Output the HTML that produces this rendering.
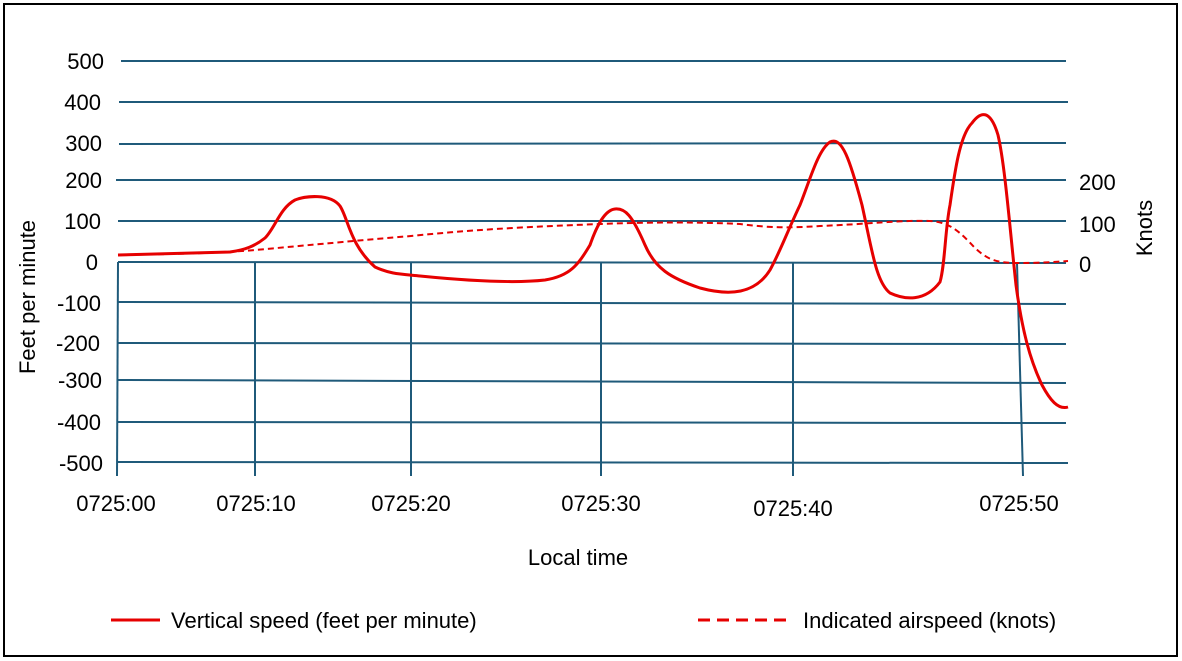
<!DOCTYPE html>
<html><head><meta charset="utf-8"><style>
html,body{margin:0;padding:0;background:#fff;}
svg{display:block;font-family:"Liberation Sans",Arial,sans-serif;}
</style></head><body>
<svg width="1182" height="661" viewBox="0 0 1182 661">
<rect x="0" y="0" width="1182" height="661" fill="#fff"/>
<rect x="4" y="4" width="1173" height="652" fill="none" stroke="#000" stroke-width="2"/>
<g stroke="#1f5a7a" stroke-width="2" fill="none">
<line x1="121" y1="61" x2="1066" y2="61"/>
<line x1="119" y1="102" x2="1068" y2="102"/>
<line x1="119" y1="144" x2="1066" y2="143"/>
<line x1="116" y1="180" x2="1066" y2="180"/>
<line x1="118" y1="221" x2="1066" y2="221"/>
<line x1="118" y1="262" x2="1066" y2="263"/>
<line x1="118" y1="302" x2="1066" y2="304"/>
<line x1="118" y1="343" x2="1066" y2="344"/>
<line x1="118" y1="380" x2="1066" y2="383"/>
<line x1="118" y1="422" x2="1066" y2="423"/>
<line x1="118" y1="462" x2="1068" y2="463"/>
<line x1="118" y1="262" x2="117" y2="476"/>
<line x1="255" y1="262" x2="255" y2="476"/>
<line x1="411" y1="262" x2="411" y2="476"/>
<line x1="601" y1="262" x2="601" y2="476"/>
<line x1="793" y1="262" x2="793" y2="476"/>
<line x1="1017" y1="263" x2="1023" y2="476"/>
</g>
<g font-size="22" fill="#000" text-anchor="end">
<text x="104" y="69">500</text>
<text x="101" y="110">400</text>
<text x="102" y="151">300</text>
<text x="102" y="188">200</text>
<text x="101" y="229">100</text>
<text x="98" y="270">0</text>
<text x="101" y="311">-100</text>
<text x="100" y="351">-200</text>
<text x="102" y="388">-300</text>
<text x="101" y="430">-400</text>
<text x="103" y="471">-500</text>
</g>
<g font-size="22" fill="#000">
<text x="1079" y="190">200</text>
<text x="1079" y="232">100</text>
<text x="1079" y="272">0</text>
</g>
<text transform="translate(1152,228) rotate(-90)" font-size="22" text-anchor="middle">Knots</text>
<text transform="translate(35,297) rotate(-90)" font-size="22" text-anchor="middle">Feet per minute</text>
<g font-size="22" text-anchor="middle">
<text x="116" y="511">0725:00</text>
<text x="256" y="511">0725:10</text>
<text x="411" y="511">0725:20</text>
<text x="601" y="511">0725:30</text>
<text x="793" y="516">0725:40</text>
<text x="1019" y="511">0725:50</text>
<text x="578" y="565">Local time</text>
</g>
<path d="M118,255 L230,252 C245,250 255,246 265,238 C275,228 280,208 295,200 C305,196 330,193 340,206 C348,218 350,245 375,267 C390,274 400,274 420,276 C460,280 510,284 545,280 C570,276 578,265 590,245 C597,225 605,210 615,209 C625,208 632,215 645,245 C655,268 670,278 700,288 C730,296 755,294 770,270 C780,252 788,230 800,205 C810,180 818,150 830,142 C842,136 850,160 862,205 C872,250 876,282 890,293 C905,300 925,302 940,282 C945,265 945,230 950,205 C955,170 960,135 972,123 C980,112 990,108 998,135 C1005,165 1010,230 1016,285 C1022,330 1030,360 1042,385 C1050,400 1058,410 1068,407" fill="none" stroke="#e60000" stroke-width="3"/>
<path d="M118,255 C180,254 220,253 255,250 C300,246 340,242 411,236 C470,230 520,227 601,224 C650,222 700,222 740,224 C770,228 790,228 820,226 C870,224 900,220 930,221 C950,222 960,232 975,248 C990,262 1000,263 1020,263 C1040,263 1055,262 1068,261" fill="none" stroke="#e60000" stroke-width="2" stroke-dasharray="6,4"/>
<line x1="111" y1="620" x2="160" y2="620" stroke="#e60000" stroke-width="3"/>
<text x="171" y="628" font-size="22">Vertical speed (feet per minute)</text>
<line x1="698" y1="620" x2="790" y2="620" stroke="#e60000" stroke-width="3" stroke-dasharray="12,7"/>
<text x="803" y="628" font-size="22">Indicated airspeed (knots)</text>
</svg>
</body></html>
